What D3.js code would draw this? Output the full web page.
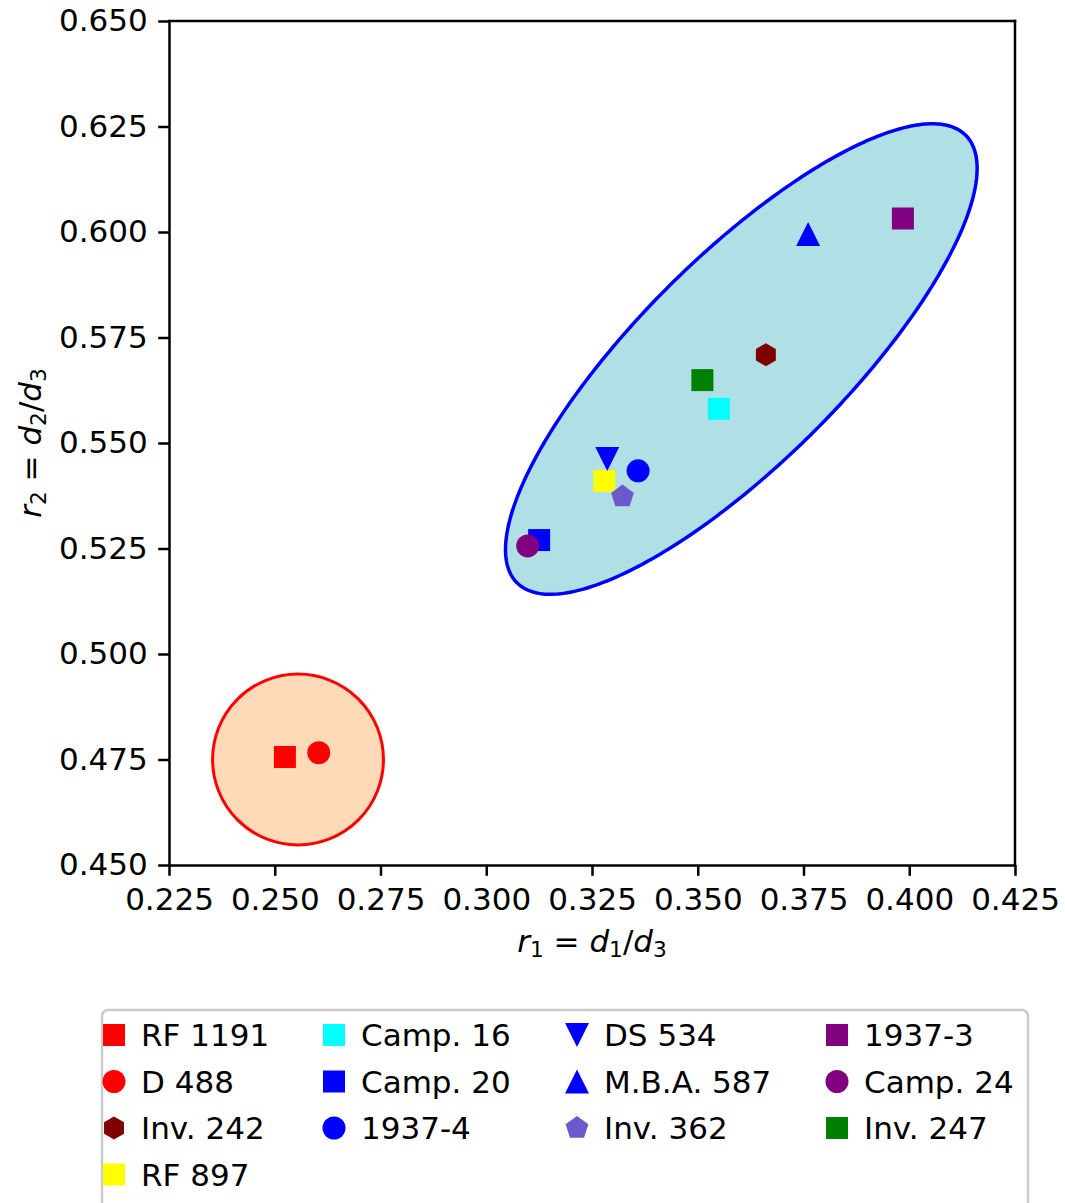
<!DOCTYPE html>
<html>
<head>
<meta charset="utf-8">
<script src="https://cdn.jsdelivr.net/npm/d3@7"></script>
<style>
  body { margin: 0; background: #fff; }
  text { font-family: "DejaVu Sans", sans-serif; }
</style>
</head>
<body>
<svg id="chart" width="1065" height="1203"></svg>
<script>
// samples, in plotting (= legend) order
const names = ['RF 1191', 'D 488', 'Inv. 242', 'RF 897', 'Camp. 16', 'Camp. 20', '1937-4',
  'DS 534', 'M.B.A. 587', 'Inv. 362', '1937-3', 'Camp. 24', 'Inv. 247'];
const r1Values = [0.2524, 0.2604, 0.3661, 0.3279, 0.3550, 0.3125, 0.3359,
  0.3286, 0.3761, 0.3322, 0.3985, 0.3098, 0.3511];
const r2Values = [0.4756, 0.4766, 0.5709, 0.5410, 0.5581, 0.5270, 0.5434,
  0.5462, 0.5995, 0.5373, 0.6032, 0.5256, 0.5649];

const xTicks = [0.225, 0.250, 0.275, 0.300, 0.325, 0.350, 0.375, 0.400, 0.425];
const yTicks = [0.450, 0.475, 0.500, 0.525, 0.550, 0.575, 0.600, 0.625, 0.650];

// the two cluster outlines (data units)
const circleCenter = [0.2555, 0.475];
const circleRadius = 0.0202;
const ellipseCenter = [0.3603, 0.5699];
const ellipseAxes = [0.150, 0.0486]; // full width, full height
const ellipseAngle = 45;

// marker styles
const markerColors = ['red', 'red', '#800000', 'yellow', 'cyan', 'blue', 'blue',
  'blue', 'blue', 'slateblue', 'purple', 'purple', 'green'];
const markerShapes = ['square', 'circle', 'hexagon', 'square', 'square', 'square', 'circle',
  'triangleDown', 'triangleUp', 'pentagon', 'square', 'circle', 'square'];

const svg = d3.select('#chart');
const fontSize = 31;

const x = d3.scaleLinear().domain([0.225, 0.425]).range([169, 1015]);
const y = d3.scaleLinear().domain([0.45, 0.65]).range([865, 21]);

// custom polygon symbol types
function polygonType(points) {
  return {
    draw(ctx, size) {
      const s = Math.sqrt(size);
      points.forEach(([px, py], i) => {
        if (i === 0) ctx.moveTo(px * s, py * s);
        else ctx.lineTo(px * s, py * s);
      });
      ctx.closePath();
    }
  };
}
function regular(n) {
  return d3.range(n).map((k) => {
    const a = -Math.PI / 2 + (k * 2 * Math.PI) / n;
    return [Math.cos(a), Math.sin(a)];
  });
}
const symbolTypes = {
  square: polygonType([[-0.5, -0.5], [0.5, -0.5], [0.5, 0.5], [-0.5, 0.5]]),
  triangleUp: polygonType([[0, -0.5], [0.5, 0.5], [-0.5, 0.5]]),
  triangleDown: polygonType([[0, 0.5], [0.5, -0.5], [-0.5, -0.5]]),
  hexagon: polygonType(regular(6)),
  pentagon: polygonType(regular(5)),
};
const symbolSizes = { square: 22 * 22, triangleUp: 24 * 24, triangleDown: 24 * 24, hexagon: 11.5 * 11.5, pentagon: 12 * 12 };

function markerPath(shape) {
  if (shape === 'circle') return d3.symbol().type(d3.symbolCircle).size(Math.PI * 11.5 * 11.5)();
  return d3.symbol().type(symbolTypes[shape]).size(symbolSizes[shape])();
}

// cluster outlines
svg.append('circle')
  .attr('cx', x(circleCenter[0]))
  .attr('cy', y(circleCenter[1]))
  .attr('r', x(circleCenter[0] + circleRadius) - x(circleCenter[0]))
  .attr('fill', 'peachpuff')
  .attr('stroke', 'red')
  .attr('stroke-width', 3);

const theta = (ellipseAngle * Math.PI) / 180;
const a = ellipseAxes[0] / 2, b = ellipseAxes[1] / 2;
const ellipsePts = d3.range(0, 2 * Math.PI, Math.PI / 180).map((t) => [
  ellipseCenter[0] + a * Math.cos(t) * Math.cos(theta) - b * Math.sin(t) * Math.sin(theta),
  ellipseCenter[1] + a * Math.cos(t) * Math.sin(theta) + b * Math.sin(t) * Math.cos(theta),
]);
svg.append('path')
  .attr('d', d3.line().x((d) => x(d[0])).y((d) => y(d[1])).curve(d3.curveLinearClosed)(ellipsePts))
  .attr('fill', 'powderblue')
  .attr('stroke', 'blue')
  .attr('stroke-width', 3.5);

// points
names.forEach((n, i) => {
  svg.append('path')
    .attr('d', markerPath(markerShapes[i]))
    .attr('transform', `translate(${x(r1Values[i])},${y(r2Values[i])})`)
    .attr('fill', markerColors[i]);
});

// axes
const tickLen = 10.8;
const xAxis = svg.append('g')
  .attr('transform', 'translate(0,865)')
  .call(d3.axisBottom(x).tickValues(xTicks).tickFormat(d3.format('.3f'))
    .tickSize(tickLen).tickPadding(12.5).tickSizeOuter(0));
const yAxis = svg.append('g')
  .attr('transform', 'translate(169,0)')
  .call(d3.axisLeft(y).tickValues(yTicks).tickFormat(d3.format('.3f'))
    .tickSize(tickLen).tickPadding(10.5).tickSizeOuter(0));
[xAxis, yAxis].forEach((g) => {
  g.selectAll('text').attr('font-size', fontSize).attr('font-family', '"DejaVu Sans", sans-serif').attr('fill', '#000');
  g.selectAll('line').attr('stroke', '#000').attr('stroke-width', 2.5);
  g.select('.domain').attr('stroke', '#000').attr('stroke-width', 2.5);
});
// top and right spines
svg.append('line').attr('x1', x(0.225)).attr('x2', x(0.425)).attr('y1', y(0.65)).attr('y2', y(0.65))
  .attr('stroke', '#000').attr('stroke-width', 2.5).attr('stroke-linecap', 'square');
svg.append('line').attr('x1', x(0.425)).attr('x2', x(0.425)).attr('y1', y(0.45)).attr('y2', y(0.65))
  .attr('stroke', '#000').attr('stroke-width', 2.5).attr('stroke-linecap', 'square');

// math-ish labels
function mathLabel(sel, parts) {
  sel.style('white-space', 'pre');
  parts.forEach(([t, kind]) => {
    const ts = sel.append('tspan').text(t);
    if (kind === 'i') ts.attr('font-style', 'italic');
    if (kind === 's') ts.attr('font-size', fontSize * 0.7).attr('baseline-shift', '-22%');
  });
}
const labelParts = (k) => [['r', 'i'], [k, 's'], [' = '], ['d', 'i'], [k, 's'], ['/'], ['d', 'i'], ['3', 's']];

mathLabel(svg.append('text')
  .attr('x', (x(0.225) + x(0.425)) / 2)
  .attr('y', 952)
  .attr('text-anchor', 'middle')
  .attr('font-size', fontSize), labelParts('1'));

mathLabel(svg.append('text')
  .attr('transform', `translate(41,${(y(0.45) + y(0.65)) / 2}) rotate(-90)`)
  .attr('text-anchor', 'middle')
  .attr('font-size', fontSize), labelParts('2'));

// legend
const legend = svg.append('g');
legend.append('rect')
  .attr('x', 102).attr('y', 1010)
  .attr('width', 926).attr('height', 260)
  .attr('rx', 6)
  .attr('fill', '#fff')
  .attr('stroke', '#cccccc')
  .attr('stroke-width', 2.5);

const colX = [114, 334, 577, 837];
const rowY = [1035, 1081.5, 1128, 1174.5];
const colSizes = [4, 3, 3, 3];
let idx = 0;
colSizes.forEach((count, c) => {
  for (let r = 0; r < count; r++, idx++) {
    legend.append('path')
      .attr('d', markerPath(markerShapes[idx]))
      .attr('transform', `translate(${colX[c]},${rowY[r]})`)
      .attr('fill', markerColors[idx]);
    legend.append('text')
      .attr('x', colX[c] + 27)
      .attr('y', rowY[r] + 11)
      .attr('font-size', fontSize)
      .attr('fill', '#000')
      .text(names[idx]);
  }
});
</script>
</body>
</html>
